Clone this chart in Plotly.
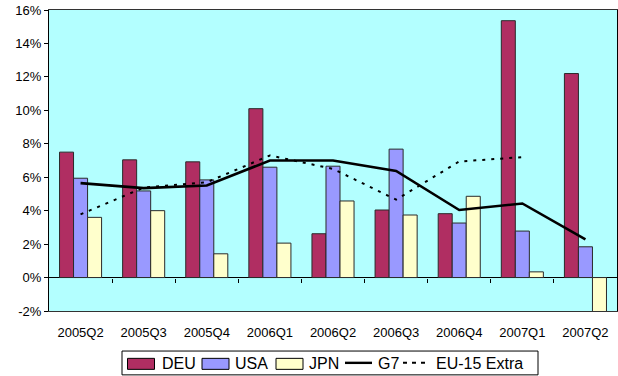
import plotly.graph_objects as go

# Quarterly growth rates (%), year on year
quarters = ["2005Q2", "2005Q3", "2005Q4", "2006Q1", "2006Q2",
            "2006Q3", "2006Q4", "2007Q1", "2007Q2"]
deu = [7.5, 7.04, 6.92, 10.1, 2.62, 4.04, 3.82, 15.36, 12.2]
usa = [5.94, 5.18, 5.84, 6.6, 6.66, 7.68, 3.26, 2.78, 1.84]
jpn = [3.6, 4.0, 1.42, 2.06, 4.58, 3.74, 4.86, 0.34, -2.1]
g7 = [5.65, 5.35, 5.5, 7.0, 7.0, 6.38, 4.04, 4.43, 2.28]
eu15_extra = [3.78, 5.38, 5.7, 7.3, 6.5, 4.66, 6.94, 7.2, None]

y_ticks = [-2, 0, 2, 4, 6, 8, 10, 12, 14, 16]
y_tick_labels = [f"{v}%" for v in y_ticks]

C_DEU = "#B02E62"
C_USA = "#9999FF"
C_JPN = "#FFFFCC"
BG = "#B3FFFF"
FONT = "Liberation Sans, Arial, sans-serif"

W, H = 618, 376
ML, MR, MT, MB = 49, 1, 10, 65.3
PW, PH = W - ML - MR, H - MT - MB


def fx(px):
    return (px - ML) / PW


def fy(py):
    return (MT + PH - py) / PH


outline = dict(color="#2a2a2a", width=1)
fig = go.Figure()
fig.add_trace(go.Bar(x=quarters, y=deu, name="DEU", marker=dict(color=C_DEU, line=outline)))
fig.add_trace(go.Bar(x=quarters, y=usa, name="USA", marker=dict(color=C_USA, line=outline)))
fig.add_trace(go.Bar(x=quarters, y=jpn, name="JPN", marker=dict(color=C_JPN, line=outline)))
fig.add_trace(go.Scatter(x=quarters, y=g7, name="G7", mode="lines",
                         line=dict(color="black", width=2.6)))
fig.add_trace(go.Scatter(x=quarters, y=eu15_extra, name="EU-15 Extra", mode="lines",
                         line=dict(color="black", width=2, dash="3px,6px")))
# carrier for the category-boundary ticks on the zero line
fig.add_trace(go.Scatter(x=[None], y=[None], xaxis="x2", showlegend=False, hoverinfo="skip"))

fig.update_traces(showlegend=False)

fig.update_layout(
    width=W, height=H,
    margin=dict(l=ML, r=MR, t=MT, b=MB),
    paper_bgcolor="white", plot_bgcolor=BG,
    font=dict(family=FONT, size=13, color="black"),
    barmode="group", bargap=1/3, bargroupgap=0,
    xaxis=dict(type="category", range=[-0.5, 8.5], showline=True, mirror=True,
               linecolor="#333333", linewidth=1, ticks="outside", ticklen=9,
               tickcolor="rgba(0,0,0,0)", showgrid=False, tickfont=dict(size=13)),
    xaxis2=dict(type="linear", range=[-0.5, 8.5], overlaying="x", anchor="free",
                position=2/18, side="bottom", tickvals=[i + 0.5 for i in range(8)],
                ticks="outside", ticklen=4, tickcolor="black", showticklabels=False,
                showline=False, showgrid=False, zeroline=False),
    yaxis=dict(range=[-2, 16], tickvals=y_ticks, ticktext=y_tick_labels,
               showline=True, mirror=True,
               linecolor="black", linewidth=1, ticks="outside", ticklen=4,
               tickcolor="black", showgrid=False, zeroline=True,
               zerolinecolor="black", zerolinewidth=1, tickfont=dict(size=13)),
)

# legend box
shapes = [dict(type="rect", xref="paper", yref="paper",
               x0=fx(122), x1=fx(538), y0=fy(374.5), y1=fy(350.7),
               line=dict(color="black", width=1), fillcolor="white", layer="above")]
annotations = []
ycen = 363.5
items = [
    ("DEU", "bar", C_DEU, 127.5, 159.5),
    ("USA", "bar", C_USA, 202, 233),
    ("JPN", "bar", C_JPN, 276, 306.5),
    ("G7", "solid", None, 345, 375.5),
    ("EU-15 Extra", "dash", None, 403, 434),
]
for label, kind, color, x0, tx in items:
    if kind == "bar":
        shapes.append(dict(type="rect", xref="paper", yref="paper",
                           x0=fx(x0), x1=fx(x0 + 27), y0=fy(ycen + 5.5), y1=fy(ycen - 5.5),
                           fillcolor=color, line=dict(color="black", width=1), layer="above"))
    else:
        shapes.append(dict(type="line", xref="paper", yref="paper",
                           x0=fx(x0), x1=fx(x0 + 27 if kind == "solid" else x0 + 24),
                           y0=fy(ycen - 1), y1=fy(ycen - 1), layer="above",
                           line=dict(color="black", width=2.4 if kind == "solid" else 2,
                                     dash="solid" if kind == "solid" else "4px,5px")))
    annotations.append(dict(text=label, xref="paper", yref="paper", x=fx(tx), y=fy(ycen),
                            xanchor="left", yanchor="middle", showarrow=False,
                            font=dict(size=16, family=FONT, color="black")))

fig.update_layout(shapes=shapes, annotations=annotations)

fig.write_html("out.html")
